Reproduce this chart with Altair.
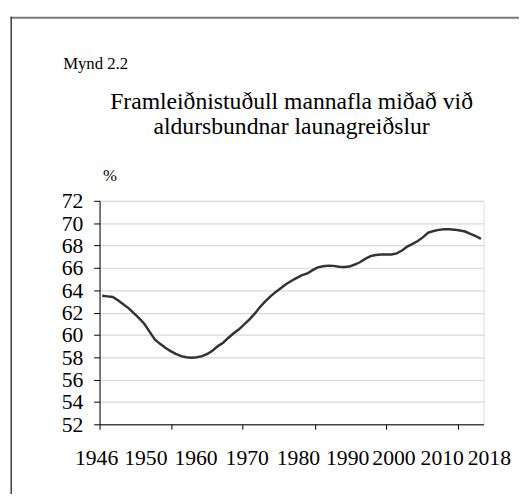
import altair as alt
import pandas as pd

# ---- data ----
years = list(range(1946, 2019))
values = [
    63.5, 63.45, 63.4, 63.1, 62.75, 62.4, 61.95, 61.5, 61.0, 60.3,   # 1946-1955
    59.6, 59.2, 58.85, 58.55, 58.3, 58.1, 58.0, 57.95, 58.0, 58.1,   # 1956-1965
    58.3, 58.6, 59.0, 59.3, 59.75, 60.15, 60.5, 60.95, 61.4, 61.9,   # 1966-1975
    62.5, 63.0, 63.45, 63.85, 64.2, 64.55, 64.85, 65.1, 65.35, 65.5, # 1976-1985
    65.8, 66.05, 66.15, 66.2, 66.18, 66.1, 66.07, 66.12, 66.3, 66.5, # 1986-1995
    66.8, 67.05, 67.15, 67.2, 67.2, 67.2, 67.3, 67.55, 67.9, 68.15,  # 1996-2005
    68.4, 68.75, 69.15, 69.3, 69.4, 69.45, 69.45, 69.42, 69.35, 69.25, # 2006-2015
    69.05, 68.85, 68.6,                                               # 2016-2018
]

x_tick_years = [1945.5, 1952.2, 1959.2, 1966.0, 1972.7, 1979.4, 1986.4,
                1993.2, 2000.0, 2006.7, 2013.7, 2018.5]
x_label_text = ["1946", "1950", "1960", "1970", "1980", "1990", "2000", "2010", "2018"]
x_label_at = [1944.94, 1954.3, 1963.84, 1973.58, 1983.31, 1992.67, 2001.47, 2010.64, 2019.6]
y_ticks = list(range(52, 73, 2))

title_lines = ["Framleiðnistuðull mannafla miðað við", "aldursbundnar launagreiðslur"]
figure_label = "Mynd 2.2"
y_unit = "%"

FONT = "Liberation Serif"

df = pd.DataFrame({"year": years, "value": values})
labels_df = pd.DataFrame({"pos": x_label_at, "label": x_label_text})
one = pd.DataFrame({"a": [0]})

xscale = alt.Scale(domain=[1945.5, 2018.5], nice=False, zero=False)
yscale = alt.Scale(domain=[52, 72], nice=False, zero=False)

line = alt.Chart(df).mark_line(color="#333333", strokeWidth=2.5).encode(
    x=alt.X("year:Q", scale=xscale,
            axis=alt.Axis(values=x_tick_years, labels=False, title=None, grid=False,
                          ticks=True, tickSize=5, tickColor="black",
                          domainColor="black", domainWidth=1)),
    y=alt.Y("value:Q", scale=yscale,
            axis=alt.Axis(values=y_ticks, title=y_unit, titleAngle=0, titleX=10, titleY=-26,
                          titleAlign="center", titleBaseline="middle", titleFont=FONT,
                          titleFontSize=17, titleFontWeight="normal", titleColor="black",
                          labelFont=FONT, labelFontSize=22, labelColor="black",
                          labelPadding=11, tickSize=6, tickColor="black",
                          domainColor="black", grid=True, gridColor="#d9d9d9",
                          gridWidth=1.2)),
)

xlabels = alt.Chart(labels_df).mark_text(font=FONT, fontSize=22, color="black",
                                         align="center", baseline="middle").encode(
    x=alt.X("pos:Q", scale=xscale),
    y=alt.value(261.5),
    text="label:N",
)

mynd = alt.Chart(one).mark_text(font=FONT, fontSize=17, color="black",
                                align="left", baseline="middle").encode(
    x=alt.value(-37), y=alt.value(-139.3), text=alt.value(figure_label)
)

frame_top = alt.Chart(one).mark_rect(color="#7a7a7a").encode(
    x=alt.value(-90.5), x2=alt.value(426), y=alt.value(-187), y2=alt.value(-185)
)
frame_left = alt.Chart(one).mark_rect(color="#3c3c3c").encode(
    x=alt.value(-90.5), x2=alt.value(-89.0), y=alt.value(-187), y2=alt.value(297.7)
)

chart = alt.layer(frame_top, frame_left, mynd, line, xlabels).properties(
    width=390, height=227,
    padding={"left": 2, "top": 5, "right": 0, "bottom": 0},
    title=alt.TitleParams(text=title_lines, font=FONT, fontSize=24, fontWeight="normal",
                          color="black", lineHeight=25, anchor="middle", frame="group",
                          dx=0, offset=-124),
).configure_view(strokeWidth=0).configure_title(
    font=FONT, fontSize=24, fontWeight="normal", color="black"
).configure(background="white")

chart.save("out.html", embed_options={"renderer": "svg", "actions": False})
